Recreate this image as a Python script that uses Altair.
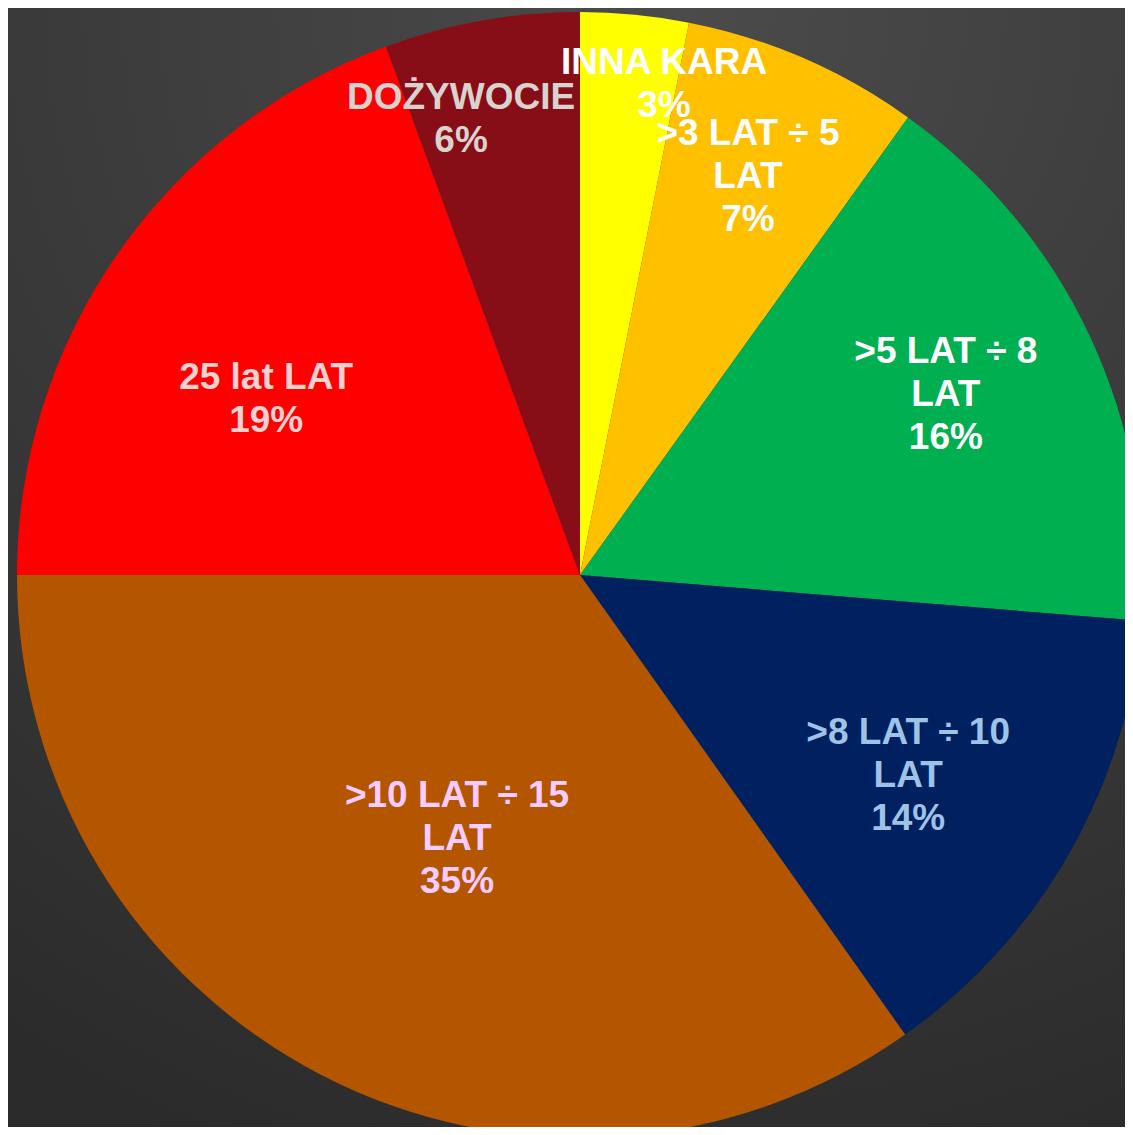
import altair as alt
import pandas as pd

# ---- data ----
categories = ["INNA KARA", ">3 LAT ÷ 5 LAT", ">5 LAT ÷ 8 LAT", ">8 LAT ÷ 10 LAT",
              ">10 LAT ÷ 15 LAT", "25 lat LAT", "DOŻYWOCIE"]
label_text = ["INNA KARA", ">3 LAT ÷ 5\nLAT", ">5 LAT ÷ 8\nLAT", ">8 LAT ÷ 10\nLAT",
              ">10 LAT ÷ 15\nLAT", "25 lat LAT", "DOŻYWOCIE"]
shares = [3.1, 6.8, 16.4, 13.9, 34.8, 19.4, 5.6]

# ---- styles / label layout (best-fit style placement, anchor = first text line) ----
slice_colors = ["#FFFF00", "#FFC000", "#00B050", "#002060", "#B45600", "#FF0000", "#870E17"]
label_colors = ["#FFFFFF", "#FFFFFF", "#FFFFFF", "#9DC3E6", "#FFCCFF", "#FFD0D0", "#D9D2CE"]
label_radius_frac = [0.9215, 0.838, 0.761, 0.647, 0.449, 0.658, 0.873]
label_angle_shift = [3.74, -2.55, -6.52, -3.98, 1.74, -2.82, -3.92]  # degrees

W, H = 1117, 1119
CX, CY, R = 572, 567, 563

df = pd.DataFrame({
    "idx": list(range(len(categories))),
    "category": categories,
    "lbl": label_text,
    "share": shares,
    "lr": [f * R for f in label_radius_frac],
    "shift": label_angle_shift,
})

bg = alt.Chart(pd.DataFrame({"a": [0]})).mark_rect(
    fill={"gradient": "radial",
          "x1": 0.6, "y1": 0.0, "r1": 0.0,
          "x2": 0.6, "y2": 0.0, "r2": 1.1,
          "stops": [{"offset": 0, "color": "#4b4b4b"},
                    {"offset": 1, "color": "#2b2b2b"}]},
).encode(x=alt.value(0), x2=alt.value(W), y=alt.value(0), y2=alt.value(H))

base = alt.Chart(df)

pie = base.mark_arc(radius=R).encode(
    theta=alt.Theta("share:Q", stack=True),
    order=alt.Order("idx:Q"),
    color=alt.Color("category:N", scale=alt.Scale(domain=categories, range=slice_colors), legend=None),
    x=alt.value(CX),
    y=alt.value(CY),
)

labels = base.transform_window(
    cum="sum(share)", sort=[alt.SortField("idx")]
).transform_joinaggregate(
    total="sum(share)"
).transform_calculate(
    mid="(datum.cum - datum.share / 2) / datum.total * 2 * PI + datum.shift * PI / 180",
    txt="datum.lbl + '\\n' + format(datum.share, '.0f') + '%'",
).mark_text(
    font="Liberation Sans", fontWeight="bold", fontSize=37, lineHeight=43,
    lineBreak="\n", align="center", baseline="middle",
).encode(
    theta=alt.Theta("mid:Q", scale=None, stack=False),
    radius=alt.Radius("lr:Q", scale=None),
    text="txt:N",
    color=alt.Color("category:N", scale=alt.Scale(domain=categories, range=label_colors), legend=None),
    x=alt.value(CX),
    y=alt.value(CY),
)

chart = alt.layer(bg, pie, labels).resolve_scale(color="independent").properties(
    width=W, height=H, padding=0, autosize="none", background="#333333",
).configure_view(stroke=None)

chart.save("out.html", embed_options={"renderer": "svg", "actions": False})
